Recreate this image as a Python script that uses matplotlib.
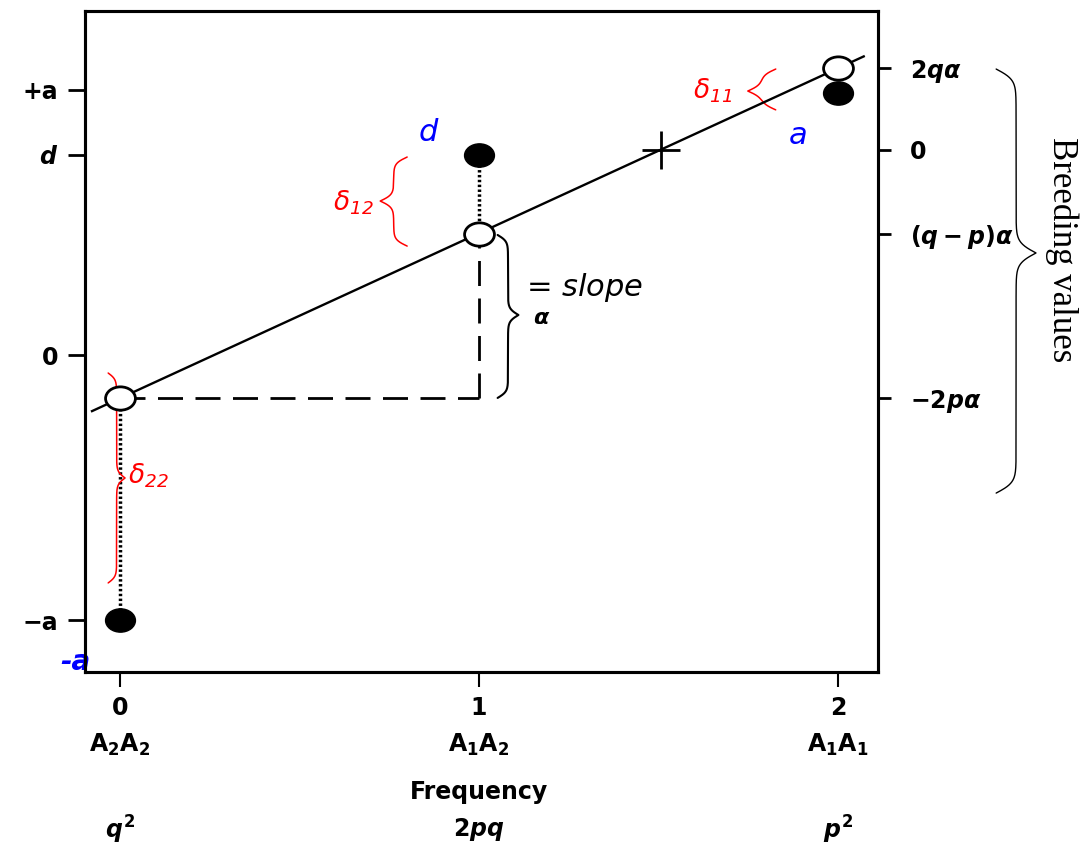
import numpy as np
import matplotlib
matplotlib.use("Agg")
import matplotlib.pyplot as plt
from matplotlib.path import Path

# genotype scale (number of A1 alleles)
allele_count = [0, 1, 2]
genotypes = [r'$\mathrm{A_2A_2}$', r'$\mathrm{A_1A_2}$', r'$\mathrm{A_1A_1}$']
frequencies = [r'$q^2$', r'$2pq$', r'$p^2$']

# genotypic values (filled) and breeding values (open), in units of a
genotypic_values = [-1.0, 0.755, 0.99]
breeding_values = [-0.162, 0.457, 1.083]
mean_x, mean_y = 1.506, 0.774

left_ticks = [1.0, 0.755, 0.0, -1.0]
left_labels = ['+a', r'$d$', '0', '\u2212a']
right_ticks = [1.083, 0.774, 0.457, -0.162]
right_labels = [r'$2q\alpha$', '0', r'$(q-p)\alpha$', r'$-2p\alpha$']

plt.rcParams['mathtext.fontset'] = 'custom'
plt.rcParams['mathtext.rm'] = 'DejaVu Sans:bold'
plt.rcParams['mathtext.it'] = 'DejaVu Sans:italic:bold'
plt.rcParams['mathtext.bf'] = 'DejaVu Sans:bold'
plt.rcParams['mathtext.sf'] = 'DejaVu Sans:italic'


def brace(ax, x_end, x_tip, y_top, y_bot, y_tip, color, lw, r=0.012, clip=True):
    # vertical curly brace, ends at x_end, point at (x_tip, y_tip)
    xs, ys = [], []
    for e, t, rev in ((y_top, y_tip, False), (y_bot, y_tip, True)):
        s = np.linspace(e, t, 300)
        k = np.sign(t - e) / r
        g = 1 / (1 + np.exp(-(s - e) * k)) + 1 / (1 + np.exp(-(s - t) * k)) - 0.5
        x = x_end + g * (x_tip - x_end)
        if rev:
            x, s = x[::-1], s[::-1]
        xs.append(x)
        ys.append(s)
    ax.plot(np.concatenate(xs), np.concatenate(ys), color=color, lw=lw,
            clip_on=clip, solid_capstyle='round')


fig = plt.figure(figsize=(10.91, 8.46), dpi=100)
ax = fig.add_axes([0.0779, 0.2057, 0.7268, 0.7813])
ax.set_xlim(-0.0976, 2.1116)
ax.set_ylim(-1.196, 1.298)

for sp in ax.spines.values():
    sp.set_linewidth(2.2)

# ellipse marker (scan is stretched horizontally)
circ = Path.unit_circle()
ell = Path(circ.vertices * [1.0, 0.78], circ.codes)

# regression line through breeding values
slope, icpt = np.polyfit(allele_count, breeding_values, 1)
lx = np.array([-0.078, 2.072])
ax.plot(lx, icpt + slope * lx, color='black', lw=1.7, zorder=3)

# dashed guides for the slope
ax.plot([allele_count[0], allele_count[1]], [breeding_values[0]] * 2,
        color='black', lw=2, ls=(0, (9, 4.5)), zorder=2)
ax.plot([allele_count[1]] * 2, [breeding_values[0], breeding_values[1]],
        color='black', lw=2, ls=(0, (9, 4.5)), zorder=2)

# dotted deviations
for i in (0, 1):
    ax.plot([allele_count[i]] * 2, [genotypic_values[i], breeding_values[i]],
            color='black', lw=2.5, ls=(0, (0.7, 0.7)), zorder=2)

ax.plot(allele_count, genotypic_values, ls='none', marker=ell, ms=21.5,
        mfc='black', mec='black', zorder=5)
ax.plot(allele_count, breeding_values, ls='none', marker=ell, ms=21.5,
        mfc='white', mec='black', mew=2, zorder=5)
ax.plot([mean_x], [mean_y], ls='none', marker='+', ms=28, mew=2,
        color='black', zorder=5)

# braces
brace(ax, 1.827, 1.749, 1.079, 0.925, 0.996, 'red', 1.1)
brace(ax, 0.800, 0.725, 0.747, 0.411, 0.581, 'red', 1.1)
brace(ax, -0.033, 0.014, -0.068, -0.860, -0.464, 'red', 1.1)
brace(ax, 1.052, 1.110, 0.453, -0.162, 0.151, 'black', 1.5)
brace(ax, 2.441, 2.552, 1.079, -0.521, 0.385, 'black', 1.0, r=0.02, clip=False)

# annotations
ax.text(1.651, 0.996, r'$\mathsf{\delta_{11}}$', color='red', fontsize=19,
        ha='center', va='center')
ax.text(0.650, 0.574, r'$\mathsf{\delta_{12}}$', color='red', fontsize=19,
        ha='center', va='center')
ax.text(0.078, -0.457, r'$\mathsf{\delta_{22}}$', color='red', fontsize=19,
        ha='center', va='center')
ax.text(1.130, 0.253, '= ' + r'$\mathsf{slope}$', fontsize=22,
        ha='left', va='center')
ax.text(1.174, 0.140, r'$\alpha$', fontsize=16, ha='center', va='center')
ax.text(0.859, 0.838, 'd', color='blue', fontsize=22, style='italic',
        ha='center', va='center')
ax.text(1.888, 0.830, 'a', color='blue', fontsize=22, style='italic',
        ha='center', va='center')
ax.text(-0.123, -1.158, '-a', color='blue', fontsize=20, style='italic',
        fontweight='bold', ha='center', va='center')
ax.text(2.625, 0.396, 'Breeding values', family='Liberation Serif',
        fontsize=25, rotation=-90, ha='center', va='center')

# axes ticks
ax.set_xticks(allele_count)
ax.set_xticklabels([str(v) for v in allele_count])
ax.tick_params(axis='x', direction='out', length=11, width=1.5, pad=6,
               labelsize=17)
ax.set_yticks(left_ticks)
ax.set_yticklabels(left_labels)
ax.tick_params(axis='y', direction='out', length=12, width=2, pad=7,
               labelsize=17)
plt.setp(ax.get_xticklabels() + ax.get_yticklabels(), fontweight='bold')

ax2 = ax.twinx()
ax2.set_ylim(ax.get_ylim())
ax2.set_yticks(right_ticks)
ax2.set_yticklabels(right_labels)
ax2.tick_params(axis='y', direction='out', length=9, width=2, pad=14,
                labelsize=17)
plt.setp(ax2.get_yticklabels(), fontweight='bold')
for sp in ax2.spines.values():
    sp.set_linewidth(2.2)

tr = ax.get_xaxis_transform()
for xv, g, f in zip(allele_count, genotypes, frequencies):
    ax.text(xv, -0.110, g, transform=tr, fontsize=17, ha='center', va='center')
    ax.text(xv, -0.239, f, transform=tr, fontsize=17, ha='center', va='center')
ax.text(allele_count[1], -0.1815, 'Frequency', transform=tr, fontsize=17,
        fontweight='bold', ha='center', va='center')

fig.savefig('out.png', dpi=100)
plt.close(fig)
